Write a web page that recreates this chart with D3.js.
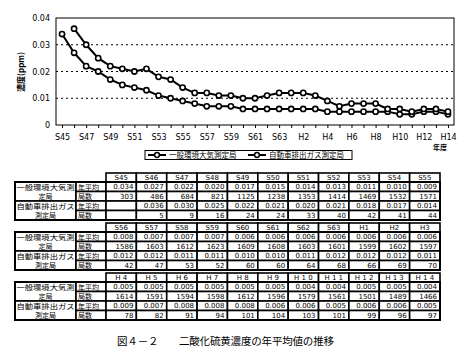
<!DOCTYPE html>
<html><head><meta charset="utf-8">
<script src="https://cdn.jsdelivr.net/npm/d3@7"></script>
<style>
html,body{margin:0;padding:0;background:#fff;}
svg{display:block;font-family:"Noto Sans CJK JP","DejaVu Sans",sans-serif;}
</style></head>
<body><svg id="c" width="474" height="358"></svg>
<script>
// ---- data ----
const years = ["S45","S46","S47","S48","S49","S50","S51","S52","S53","S54","S55",
  "S56","S57","S58","S59","S60","S61","S62","S63","H1","H2","H3",
  "H4","H5","H6","H7","H8","H9","H10","H11","H12","H13","H14"];
const tableHeaders = ["S45","S46","S47","S48","S49","S50","S51","S52","S53","S54","S55",
  "S56","S57","S58","S59","S60","S61","S62","S63","H1","H2","H3",
  "H 4","H 5","H 6","H 7","H 8","H 9","H 1 0","H 1 1","H 1 2","H 1 3","H 1 4"];
const xTickLabels = ["S45","S47","S49","S51","S53","S55","S57","S59","S61","S63","H2","H4","H6","H8","H10","H12","H14"];
const yTicks = [0, 0.01, 0.02, 0.03, 0.04];
const ippan = [0.034,0.027,0.022,0.020,0.017,0.015,0.014,0.013,0.011,0.010,0.009,
  0.008,0.007,0.007,0.007,0.006,0.006,0.006,0.006,0.006,0.006,0.006,
  0.005,0.005,0.005,0.005,0.005,0.005,0.004,0.004,0.005,0.005,0.004];
const jidosha = [null,0.036,0.030,0.025,0.022,0.021,0.020,0.021,0.018,0.017,0.014,
  0.012,0.012,0.011,0.011,0.010,0.010,0.011,0.012,0.012,0.012,0.011,
  0.009,0.007,0.008,0.008,0.008,0.006,0.006,0.005,0.006,0.006,0.005];
const ippanCount = [303,486,684,821,1125,1238,1353,1414,1469,1532,1571,
  1586,1603,1612,1623,1609,1608,1603,1601,1599,1602,1597,
  1614,1591,1594,1598,1612,1596,1579,1561,1501,1489,1466];
const jidoshaCount = [null,5,9,16,24,24,33,40,42,41,44,
  42,47,53,52,60,60,64,68,66,69,70,
  78,82,91,94,101,104,103,101,99,96,97];
const seriesNames = ["一般環境大気測定局","自動車排出ガス測定局"];
const rowLabels = ["一般環境大気測","定局","自動車排出ガス","測定局"];
const subLabels = ["年平均","局数","年平均","局数"];
const yTitle = "濃度(ppm)";
const xTitle = "年度";
const caption = "図４－２　　二酸化硫黄濃度の年平均値の推移";

// ---- chart ----
const svg = d3.select("#c");
const L=56,R=454,T=18,B=125;
const x = d3.scalePoint().domain(years).range([L,R]).padding(0.5);
const y = d3.scaleLinear().domain([0,0.04]).range([B,T]);

const g = svg.append("g");
g.selectAll(".grid").data(yTicks.filter(v=>v>0&&v<0.04)).join("line")
  .attr("x1",L).attr("x2",R).attr("y1",d=>y(d)).attr("y2",d=>y(d))
  .attr("stroke","#000").attr("stroke-width",1).attr("stroke-dasharray","2,3");
g.append("rect").attr("x",L).attr("y",T).attr("width",R-L).attr("height",B-T)
  .attr("fill","none").attr("stroke","#000").attr("stroke-width",1);

const yAxis = d3.axisLeft(y).tickValues(yTicks).tickSize(0).tickPadding(6)
  .tickFormat(d=>d===0?"0":d3.format(".2f")(d));
const ya = g.append("g").attr("transform",`translate(${L},0)`).call(yAxis);
ya.select(".domain").remove();
ya.selectAll("text").attr("font-size",8).attr("font-family","DejaVu Sans, sans-serif").attr("fill","#000");

const xAxis = d3.axisBottom(x).tickSize(3).tickPadding(6)
  .tickFormat(d=>xTickLabels.includes(d)?d:"");
const xa = g.append("g").attr("transform",`translate(0,${B})`).call(xAxis);
xa.select(".domain").remove();
xa.selectAll("line").attr("stroke","#000");
xa.selectAll("text").attr("font-size",8).attr("font-family","DejaVu Sans, sans-serif").attr("fill","#000");

svg.append("text").attr("transform",`translate(24,72) rotate(-90)`)
  .attr("text-anchor","middle").attr("font-size",8).attr("font-weight","bold").text(yTitle);
svg.append("text").attr("x",440).attr("y",150).attr("text-anchor","middle")
  .attr("font-size",7).attr("font-weight","bold").text(xTitle);

const line = d3.line().defined(d=>d.v!=null).x(d=>x(d.k)).y(d=>y(d.v));
[ippan,jidosha].forEach(s=>{
  const pts = years.map((k,i)=>({k,v:s[i]}));
  g.append("path").datum(pts).attr("d",line).attr("fill","none")
    .attr("stroke","#000").attr("stroke-width",2);
  g.selectAll(null).data(pts.filter(d=>d.v!=null)).join("circle")
    .attr("cx",d=>x(d.k)).attr("cy",d=>y(d.v)).attr("r",2.6)
    .attr("fill","#fff").attr("stroke","#000").attr("stroke-width",1.6);
});

// legend
const lg = svg.append("g");
lg.append("rect").attr("x",145).attr("y",150.5).attr("width",207).attr("height",9)
  .attr("fill","#fff").attr("stroke","#000").attr("stroke-width",1);
const lx = [148,248];
seriesNames.forEach((n,i)=>{
  lg.append("line").attr("x1",lx[i]).attr("x2",lx[i]+18).attr("y1",155).attr("y2",155)
    .attr("stroke","#000").attr("stroke-width",2);
  lg.append("circle").attr("cx",lx[i]+9).attr("cy",155).attr("r",2.4)
    .attr("fill","#fff").attr("stroke","#000").attr("stroke-width",1.5);
  lg.append("text").attr("x",lx[i]+21).attr("y",158).attr("font-size",7.5).text(n);
});

// ---- tables ----
const colX0 = 106, colW = (440-106)/11, labX0 = 15, labX1 = 76;
const hdrH = 9, rowH = 9.5;
for(let t=0;t<3;t++){
  const top = 173 + t*50;
  const idx = d3.range(t*11, t*11+11);
  const tg = svg.append("g");
  idx.forEach((k,j)=>{
    const cx = colX0 + j*colW;
    tg.append("rect").attr("x",cx).attr("y",top).attr("width",colW).attr("height",hdrH)
      .attr("fill","#fff").attr("stroke","#000").attr("stroke-width",1.6);
    tg.append("text").attr("x",cx+colW/2).attr("y",top+7.2).attr("text-anchor","middle")
      .attr("font-size",7).attr("font-family","DejaVu Sans, sans-serif").text(tableHeaders[k]);
  });
  const by = top + hdrH;
  [[0,2],[2,2]].forEach(([r0,n])=>{
    tg.append("rect").attr("x",labX0).attr("y",by+r0*rowH).attr("width",labX1-labX0).attr("height",n*rowH)
      .attr("fill","#fff").attr("stroke","#000").attr("stroke-width",1.6);
  });
  rowLabels.forEach((lab,r)=>{
    const tx = tg.append("text").attr("x",(labX0+labX1)/2).attr("y",by+r*rowH+7.5).attr("text-anchor","middle")
      .attr("font-size",7).text(lab);
    if(lab.length>4) tx.attr("textLength",58).attr("lengthAdjust","spacingAndGlyphs");
  });
  subLabels.forEach((lab,r)=>{
    tg.append("rect").attr("x",labX1).attr("y",by+r*rowH).attr("width",colX0-labX1).attr("height",rowH)
      .attr("fill","#fff").attr("stroke","#000").attr("stroke-width",1.6);
    tg.append("text").attr("x",labX1+2).attr("y",by+r*rowH+7.5).attr("font-size",7).text(lab);
  });
  const rows = [ippan.map(v=>v==null?"":v.toFixed(3)), ippanCount.map(v=>v==null?"":String(v)),
    jidosha.map(v=>v==null?"":v.toFixed(3)), jidoshaCount.map(v=>v==null?"":String(v))];
  rows.forEach((row,r)=>{
    idx.forEach((k,j)=>{
      const cx = colX0 + j*colW;
      tg.append("rect").attr("x",cx).attr("y",by+r*rowH).attr("width",colW).attr("height",rowH)
        .attr("fill","#fff").attr("stroke","#000").attr("stroke-width",1.6);
      tg.append("text").attr("x",cx+colW-3).attr("y",by+r*rowH+7.4).attr("text-anchor","end")
        .attr("font-size",7).attr("font-family","DejaVu Sans, sans-serif").text(row[k]);
    });
  });
  tg.append("rect").attr("x",labX0).attr("y",by).attr("width",440-labX0).attr("height",4*rowH)
    .attr("fill","none").attr("stroke","#000").attr("stroke-width",2);
}

// caption
svg.append("text").attr("x",117).attr("y",345).attr("font-size",10.5)
  .attr("textLength",217).attr("lengthAdjust","spacing").text(caption);
</script></body></html>
